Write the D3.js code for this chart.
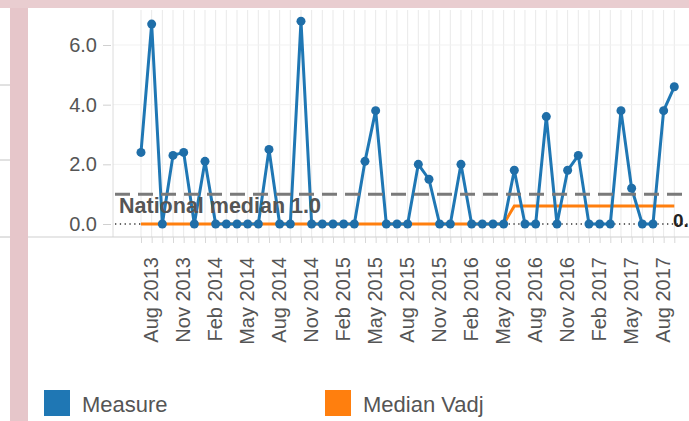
<!DOCTYPE html>
<html>
<head>
<meta charset="utf-8">
<script src="https://cdnjs.cloudflare.com/ajax/libs/d3/7.8.5/d3.min.js"></script>
<style>
body { margin: 0; background: #fff; }
text { font-family: "Liberation Sans", Arial, sans-serif; }
</style>
</head>
<body>
<div id="grafico"></div>
<script>
// data, one value per month (Jul 2013 - Sep 2017)
var months = [
  "Jul 2013", "Aug 2013", "Sep 2013", "Oct 2013", "Nov 2013", "Dec 2013",
  "Jan 2014", "Feb 2014", "Mar 2014", "Apr 2014", "May 2014", "Jun 2014",
  "Jul 2014", "Aug 2014", "Sep 2014", "Oct 2014", "Nov 2014", "Dec 2014",
  "Jan 2015", "Feb 2015", "Mar 2015", "Apr 2015", "May 2015", "Jun 2015",
  "Jul 2015", "Aug 2015", "Sep 2015", "Oct 2015", "Nov 2015", "Dec 2015",
  "Jan 2016", "Feb 2016", "Mar 2016", "Apr 2016", "May 2016", "Jun 2016",
  "Jul 2016", "Aug 2016", "Sep 2016", "Oct 2016", "Nov 2016", "Dec 2016",
  "Jan 2017", "Feb 2017", "Mar 2017", "Apr 2017", "May 2017", "Jun 2017",
  "Jul 2017", "Aug 2017", "Sep 2017"
];

var measure = [
  2.4, 6.7, 0, 2.3, 2.4, 0,
  2.1, 0, 0, 0, 0, 0,
  2.5, 0, 0, 6.8, 0, 0,
  0, 0, 0, 2.1, 3.8, 0,
  0, 0, 2.0, 1.5, 0, 0,
  2.0, 0, 0, 0, 0, 1.8,
  0, 0, 3.6, 0, 1.8, 2.3,
  0, 0, 0, 3.8, 1.2, 0,
  0, 3.8, 4.6
];

var medianVadj = [
  0, 0, 0, 0, 0, 0,
  0, 0, 0, 0, 0, 0,
  0, 0, 0, 0, 0, 0,
  0, 0, 0, 0, 0, 0,
  0, 0, 0, 0, 0, 0,
  0, 0, 0, 0, 0, 0.6,
  0.6, 0.6, 0.6, 0.6, 0.6, 0.6,
  0.6, 0.6, 0.6, 0.6, 0.6, 0.6,
  0.6, 0.6, 0.6
];

var nationalMedian = 1.0;
var yTicks = [0, 2, 4, 6];
var legendNames = ["Measure", "Median Vadj"];
var legendColors = ["#1f77b4", "#ff7f0e"];

var W = 689, H = 421;
var plotLeft = 113, axisY = 237;

var svg = d3.select("#grafico")
  .append("svg")
  .attr("width", W)
  .attr("height", H);

// page frame bits around the chart panel
svg.append("rect").attr("x", 0).attr("y", 0).attr("width", W).attr("height", H).attr("fill", "#fff");
[85, 160, 237].forEach(function(yy) {
  svg.append("line").attr("x1", 0).attr("x2", 10).attr("y1", yy).attr("y2", yy)
    .attr("stroke", "#c4c4c4").attr("stroke-width", 1);
});
svg.append("rect").attr("x", 10).attr("y", 0).attr("width", 18).attr("height", H).attr("fill", "#e6c6ca");
svg.append("rect").attr("x", 0).attr("y", 0).attr("width", W).attr("height", 8).attr("fill", "#e9cdd0");

// scales
var x = d3.scalePoint()
  .domain(months)
  .range([141, 674.3]);

var y = d3.scaleLinear()
  .domain([0, 6])
  .range([224, 45]);

// vertical grid, one per month
svg.append("g")
  .selectAll("line")
  .data(months)
  .enter()
  .append("line")
    .attr("x1", function(d) { return x(d); })
    .attr("x2", function(d) { return x(d); })
    .attr("y1", 10)
    .attr("y2", axisY)
    .attr("stroke", "#e9e9e9")
    .attr("stroke-width", 1);

// faint horizontal grid
svg.append("g")
  .selectAll("line")
  .data(yTicks.slice(1))
  .enter()
  .append("line")
    .attr("x1", plotLeft)
    .attr("x2", W)
    .attr("y1", function(d) { return y(d); })
    .attr("y2", function(d) { return y(d); })
    .attr("stroke", "#f1f1f1");

// plot border + x baseline
svg.append("line").attr("x1", plotLeft).attr("x2", plotLeft).attr("y1", 10).attr("y2", axisY)
  .attr("stroke", "#dcdcdc");
svg.append("line").attr("x1", 28).attr("x2", W).attr("y1", axisY).attr("y2", axisY)
  .attr("stroke", "#cfcfcf");

// X axis
var xAxis = svg.append("g")
  .attr("transform", "translate(0," + axisY + ")")
  .call(d3.axisBottom(x)
    .tickSize(6)
    .tickFormat(function(d, i) { return i % 3 === 1 ? d : ""; }));
xAxis.select(".domain").remove();
xAxis.selectAll(".tick line").attr("stroke", "#d8d8d8");
xAxis.selectAll("text")
  .attr("transform", "rotate(-90)")
  .attr("x", -20)
  .attr("y", 0)
  .attr("dy", "0.3em")
  .style("text-anchor", "end")
  .attr("font-size", 20)
  .attr("fill", "#555");

// Y axis
var yAxis = svg.append("g")
  .attr("transform", "translate(111,0)")
  .call(d3.axisLeft(y)
    .tickValues(yTicks)
    .tickSize(8)
    .tickPadding(6)
    .tickFormat(d3.format(".1f")));
yAxis.select(".domain").remove();
yAxis.selectAll(".tick line").attr("stroke", "#d0d0d0");
yAxis.selectAll("text")
  .attr("font-size", 20)
  .attr("fill", "#555");

// dotted zero line
svg.append("line")
  .attr("x1", plotLeft + 2).attr("x2", W)
  .attr("y1", y(0)).attr("y2", y(0))
  .attr("stroke", "#333")
  .attr("stroke-width", 1.3)
  .attr("stroke-dasharray", "1.3,3.5");

// median Vadj line
svg.append("path")
  .datum(medianVadj)
  .attr("fill", "none")
  .attr("stroke", "#ff7f0e")
  .attr("stroke-width", 3)
  .attr("d", d3.line()
    .x(function(d, i) { return x(months[i]); })
    .y(function(d) { return y(d); }));

// measure line
svg.append("path")
  .datum(measure)
  .attr("fill", "none")
  .attr("stroke", "#1f77b4")
  .attr("stroke-width", 3)
  .attr("stroke-linejoin", "round")
  .attr("d", d3.line()
    .x(function(d, i) { return x(months[i]); })
    .y(function(d) { return y(d); }));

svg.append("g")
  .selectAll("circle")
  .data(measure)
  .enter()
  .append("circle")
    .attr("cx", function(d, i) { return x(months[i]); })
    .attr("cy", function(d) { return y(d); })
    .attr("r", 4.5)
    .attr("fill", "#1f6ea8");

// national median dashed line
svg.append("line")
  .attr("x1", plotLeft + 2).attr("x2", W)
  .attr("y1", y(nationalMedian)).attr("y2", y(nationalMedian))
  .attr("stroke", "#7a7a7a")
  .attr("stroke-width", 3)
  .attr("stroke-dasharray", "15,8");

svg.append("text")
  .attr("x", 119)
  .attr("y", 213)
  .attr("font-size", 21.5)
  .attr("font-weight", "bold")
  .attr("fill", "#555")
  .text("National median " + nationalMedian.toFixed(1));

// last value label of the median line (runs off the right edge, as in the source)
svg.append("text")
  .attr("x", 673)
  .attr("y", 227)
  .attr("font-size", 19)
  .attr("font-weight", "bold")
  .attr("fill", "#222")
  .text(medianVadj[medianVadj.length - 1].toFixed(1));

// legend
var legendX = [44, 325];
legendNames.forEach(function(name, i) {
  svg.append("rect")
    .attr("x", legendX[i])
    .attr("y", 390)
    .attr("width", 26)
    .attr("height", 26)
    .attr("fill", legendColors[i]);
  svg.append("text")
    .attr("x", legendX[i] + 38)
    .attr("y", 412)
    .attr("font-size", 22)
    .attr("fill", "#555")
    .text(name);
});
</script>
</body>
</html>
